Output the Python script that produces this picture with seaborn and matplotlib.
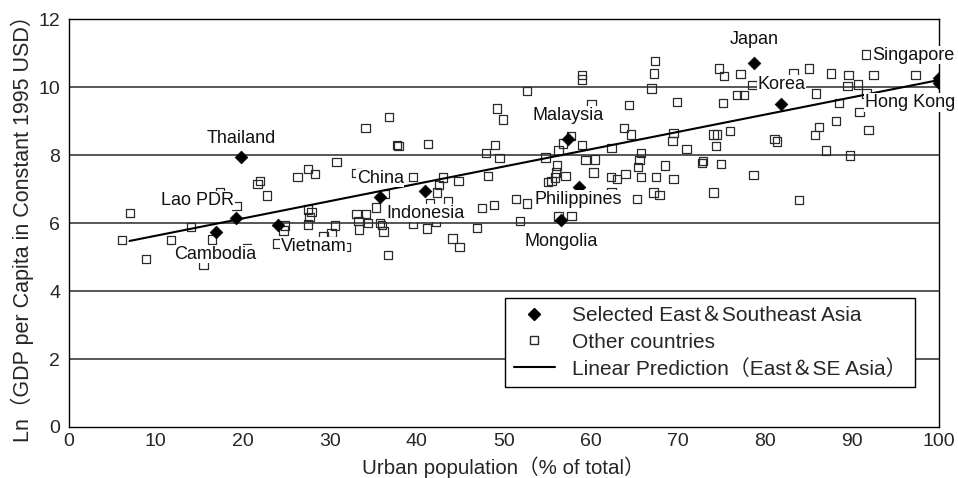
import numpy as np
import pandas as pd
import matplotlib
matplotlib.use("Agg")
import matplotlib.pyplot as plt
import seaborn as sns
from matplotlib.lines import Line2D

# ---------------- data ----------------
selected_names = ["Thailand", "Lao PDR", "Cambodia", "Vietnam", "China", "Indonesia",
                  "Malaysia", "Philippines", "Mongolia", "Japan", "Korea",
                  "Singapore", "Hong Kong"]
selected_x = [19.8, 19.2, 16.9, 24.1, 35.8, 41.0, 57.4, 58.6, 56.6, 78.8, 81.9, 100.0, 100.0]
selected_y = [7.94, 6.14, 5.73, 5.93, 6.76, 6.94, 8.47, 7.07, 6.08, 10.71, 9.49, 10.26, 10.13]

other_x = [34.1, 30.8, 27.5, 28.3, 26.3, 22.0, 21.7, 22.8, 7.05, 19.3, 17.4, 14.1, 11.8, 6.1,
           8.9, 16.5, 15.5, 20.5, 24.9, 24.7, 27.5, 27.9, 27.7, 27.5, 30.6, 30.2, 24.0, 31.9,
           29.3, 33.1,
           59.0, 59.0, 52.7, 60.1, 64.4, 49.2, 49.9, 36.8, 37.7, 37.9, 41.3, 63.8, 64.6, 57.7,
           56.8, 59.0, 62.4, 56.3, 49.0, 48.0, 49.5, 54.8, 59.4, 60.5, 65.8, 65.6, 65.4, 65.8,
           64.0, 63.0, 62.3, 60.3, 57.1, 56.1, 56.0, 55.9, 55.5, 55.1, 62.4, 65.3, 51.4, 52.7,
           48.2, 44.8, 43.0, 42.6, 42.3, 39.6, 36.3, 35.3, 43.6, 41.5, 48.9, 47.5, 33.1, 34.2,
           33.3, 34.4, 33.4, 35.8, 36.0, 36.2, 39.6, 42.2, 41.2, 46.9, 51.9, 56.3, 57.8, 44.1,
           44.9, 36.7,
           67.4, 67.3, 67.0, 69.9, 74.7, 75.3, 77.2, 78.6, 76.8, 77.6, 75.2, 83.3, 85.1, 87.6,
           89.6, 89.5, 90.7, 92.5, 97.3, 91.6, 85.9, 88.5, 91.7, 90.9, 88.2, 86.2, 85.8, 91.9,
           87.0, 89.8, 81.1, 81.4, 76.0, 74.5, 74.1, 74.4, 69.5, 69.4, 71.0, 68.5, 72.9, 72.8,
           75.0, 67.5, 69.5, 78.7, 67.2, 67.9, 74.1, 83.9]
other_y = [8.79, 7.79, 7.59, 7.45, 7.35, 7.24, 7.15, 6.81, 6.29, 6.50, 6.90, 5.88, 5.51, 5.51,
           4.95, 5.52, 4.76, 5.26, 5.93, 5.78, 6.40, 6.32, 6.17, 5.96, 5.93, 5.70, 5.40, 5.30,
           5.62, 7.48,
           10.35, 10.22, 9.89, 9.50, 9.47, 9.37, 9.05, 9.12, 8.30, 8.26, 8.33, 8.80, 8.61, 8.57,
           8.34, 8.29, 8.21, 8.13, 8.29, 8.07, 7.92, 7.93, 7.85, 7.87, 8.07, 7.85, 7.64, 7.36,
           7.44, 7.29, 7.36, 7.49, 7.39, 7.69, 7.49, 7.34, 7.24, 7.20, 6.90, 6.70, 6.71, 6.58,
           7.39, 7.24, 7.34, 7.12, 6.90, 7.36, 6.85, 6.46, 6.65, 6.58, 6.53, 6.45, 6.26, 6.26,
           6.07, 6.01, 5.81, 6.01, 5.94, 5.75, 5.99, 6.04, 5.84, 5.86, 6.06, 6.19, 6.21, 5.55,
           5.29, 5.06,
           10.76, 10.40, 9.96, 9.57, 10.55, 10.32, 10.38, 10.06, 9.76, 9.76, 9.54, 10.40, 10.55, 10.40,
           10.35, 10.03, 10.08, 10.35, 10.35, 10.96, 9.81, 9.54, 9.81, 9.26, 9.00, 8.83, 8.59, 8.74,
           8.13, 7.99, 8.47, 8.40, 8.71, 8.61, 8.61, 8.26, 8.64, 8.42, 8.17, 7.69, 7.83, 7.77,
           7.74, 7.36, 7.29, 7.41, 6.90, 6.82, 6.90, 6.68]

fit_range = [7.0, 100.0]

x_ticks = list(range(0, 101, 10))
y_ticks = list(range(0, 13, 2))

# label offsets (pixels) relative to each selected point
label_dx = [0, -38, 0, 35, 0, 0, 0, 0, 0, 0, 0, -26, -29]
label_dy = [19, 18, -22, -21, 19, -22, 24, -13, -21, 23, 20, 23, -20]

# ---------------- style ----------------
sns.set_style("white")
plt.rcParams["font.family"] = ["Liberation Sans", "Noto Sans CJK JP"]
plt.rcParams["font.size"] = 13

fig = plt.figure(figsize=(9.58, 4.78), dpi=100)
ax = fig.add_axes([0.0716, 0.1067, 0.9084, 0.8533])

sel_df = pd.DataFrame({"x": selected_x, "y": selected_y, "name": selected_names})
oth_df = pd.DataFrame({"x": other_x, "y": other_y})

slope, intercept = np.polyfit(selected_x, selected_y, 1)
fit_df = pd.DataFrame({"x": fit_range, "y": [intercept + slope * v for v in fit_range]})

for yv in y_ticks[1:-1]:
    ax.axhline(yv, color="#3a3a3a", lw=1.2, zorder=0)

sns.scatterplot(data=oth_df, x="x", y="y", marker="s", s=36, facecolors="none",
                edgecolor="#2a2a2a", linewidth=0.9, ax=ax, zorder=2, legend=False)
sns.lineplot(data=fit_df, x="x", y="y", color="black", lw=1.5, ax=ax, zorder=3,
             legend=False)
sns.scatterplot(data=sel_df, x="x", y="y", marker="D", s=42, color="black",
                edgecolor="black", linewidth=0.5, ax=ax, zorder=4, legend=False)

for i, name in enumerate(selected_names):
    ax.annotate(name, xy=(selected_x[i], selected_y[i]),
                xytext=(label_dx[i], label_dy[i]), textcoords="offset pixels",
                ha="center", va="center", fontsize=13, color="#111111",
                bbox=dict(facecolor="white", edgecolor="none", pad=0.5),
                zorder=5, annotation_clip=False)

ax.set_xlim(0, 100)
ax.set_ylim(0, 12)
ax.set_xticks(x_ticks)
ax.set_yticks(y_ticks)
ax.tick_params(axis="x", direction="in", length=5, width=0.8, labelsize=14, pad=4, color="black")
ax.tick_params(axis="y", length=0, labelsize=14, pad=6)
for sp in ax.spines.values():
    sp.set_visible(True)
    sp.set_color("black")
    sp.set_linewidth(1.0)

ax.set_xlabel("Urban population（% of total）", fontsize=14.8, labelpad=5)
ax.set_ylabel("Ln（GDP per Capita in Constant 1995 USD）", fontsize=15.5, labelpad=3)

handles = [
    Line2D([], [], marker="D", color="black", ls="none", markersize=6),
    Line2D([], [], marker="s", markerfacecolor="none", markeredgecolor="#2a2a2a",
           ls="none", markersize=6),
    Line2D([], [], color="black", lw=1.5),
]
labels = ["Selected East＆Southeast Asia", "Other countries",
          "Linear Prediction（East＆SE Asia）"]
leg = ax.legend(handles, labels, loc="lower right", bbox_to_anchor=(0.9724, 0.098),
                borderaxespad=0, fontsize=15, frameon=True, fancybox=False,
                edgecolor="black", framealpha=1, labelspacing=0.35,
                handlelength=2.0, handletextpad=0.8, borderpad=0.4)
leg.get_frame().set_linewidth(1.0)
leg.set_zorder(6)

fig.savefig("out.png", dpi=100)
